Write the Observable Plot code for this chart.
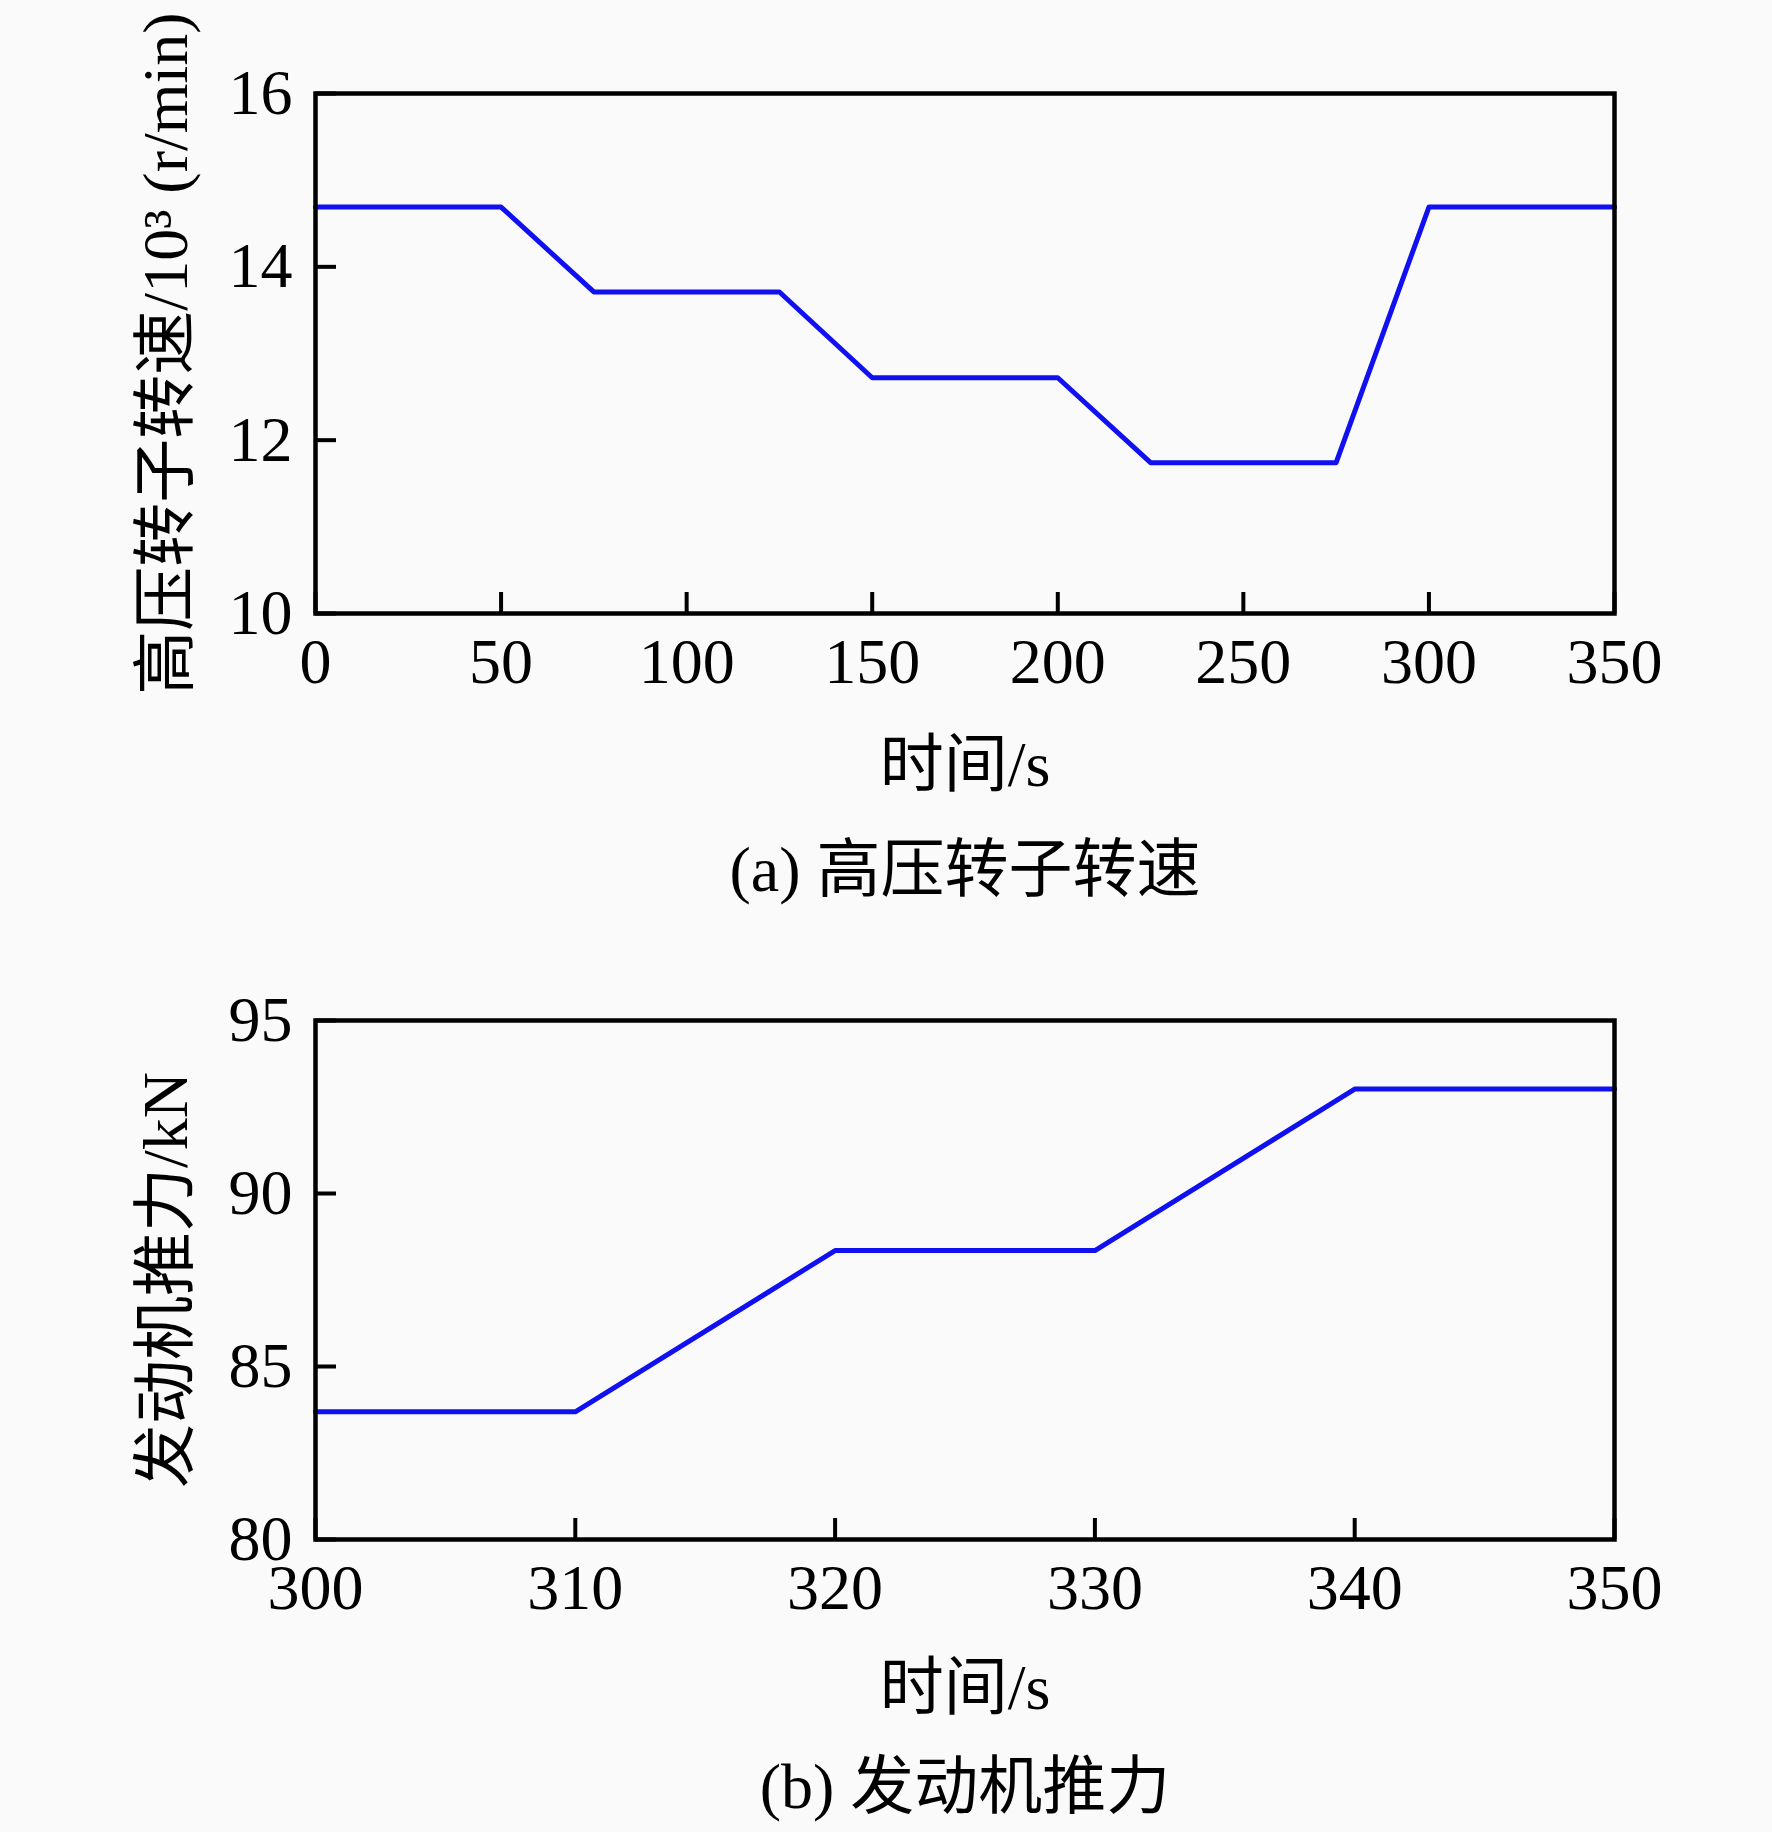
<!DOCTYPE html>
<html>
<head>
<meta charset="utf-8">
<script src="https://cdn.jsdelivr.net/npm/d3@7"></script>
<script src="https://cdn.jsdelivr.net/npm/@observablehq/plot@0.6"></script>
<style>
  html, body { margin: 0; padding: 0; background: #fafafa; }
  #root > svg, #root > figure { display: block; margin: 0; }
  svg { font-family: "Liberation Serif", "Noto Sans CJK SC", serif; }
</style>
</head>
<body>
<div id="root"></div>
<script>
// Panel (a): high-pressure rotor speed
const speedTime = [0, 50, 75, 125, 150, 200, 225, 275, 300, 350];
const speedValue = [14.69, 14.69, 13.71, 13.71, 12.72, 12.72, 11.74, 11.74, 14.69, 14.69];
const speedXTicks = [0, 50, 100, 150, 200, 250, 300, 350];
const speedYTicks = [10, 12, 14, 16];

// Panel (b): engine thrust
const thrustTime = [300, 310, 320, 330, 340, 350];
const thrustValue = [83.69, 83.69, 88.35, 88.35, 93.02, 93.02];
const thrustXTicks = [300, 310, 320, 330, 340, 350];
const thrustYTicks = [80, 85, 90, 95];

const labels = {
  aY: "高压转子转速/10³ (r/min)",
  aX: "时间/s",
  aCap: "(a) 高压转子转速",
  bY: "发动机推力/kN",
  bX: "时间/s",
  bCap: "(b) 发动机推力"
};

const W = 1772;
const FS = 64;
const lineColor = "#1010f0";

function panel({times, values, xDomain, yDomain, xTicks, yTicks, yLabel, xLabel, caption,
                height, marginTop, marginBottom, xLabelDy, captionDy}) {
  const data = times.map((t, i) => ({t, v: values[i]}));
  return Plot.plot({
    width: W,
    height,
    marginLeft: 315,
    marginRight: W - 1614,
    marginTop,
    marginBottom,
    style: {background: "#fafafa", fontSize: FS + "px", fontFamily: '"Liberation Serif", "Noto Sans CJK SC", serif', color: "#000", overflow: "visible"},
    x: {domain: xDomain, ticks: xTicks},
    y: {domain: yDomain, ticks: yTicks},
    marks: [
      Plot.axisX({ticks: xTicks, tickFormat: d => String(d), tickSize: -21, tickPadding: 45, strokeWidth: 4, label: null, fontSize: FS}),
      Plot.axisY({ticks: yTicks, tickFormat: d => String(d), tickSize: -21, tickPadding: 44, strokeWidth: 4, label: null, fontSize: FS}),
      Plot.line(data, {x: "t", y: "v", stroke: lineColor, strokeWidth: 5}),
      Plot.frame({stroke: "#000", strokeWidth: 4.5}),
      Plot.text([yLabel], {text: d => d, frameAnchor: "left", dx: -149, rotate: -90, fontSize: FS, textAnchor: "middle", lineAnchor: "middle"}),
      Plot.text([xLabel], {text: d => d, frameAnchor: "bottom", dy: xLabelDy, fontSize: FS, textAnchor: "middle", lineAnchor: "middle"}),
      Plot.text([caption], {text: d => d, frameAnchor: "bottom", dy: captionDy, fontSize: FS, textAnchor: "middle", lineAnchor: "middle"})
    ]
  });
}

const root = document.getElementById("root");
root.appendChild(panel({
  times: speedTime, values: speedValue,
  xDomain: [0, 350], yDomain: [10, 16],
  xTicks: speedXTicks, yTicks: speedYTicks,
  yLabel: labels.aY, xLabel: labels.aX, caption: labels.aCap,
  height: 940, marginTop: 93, marginBottom: 940 - 613,
  xLabelDy: 152, captionDy: 257
}));
root.appendChild(panel({
  times: thrustTime, values: thrustValue,
  xDomain: [300, 350], yDomain: [80, 95],
  xTicks: thrustXTicks, yTicks: thrustYTicks,
  yLabel: labels.bY, xLabel: labels.bX, caption: labels.bCap,
  height: 892, marginTop: 80, marginBottom: 892 - 599,
  xLabelDy: 149, captionDy: 248
}));
</script>
</body>
</html>
